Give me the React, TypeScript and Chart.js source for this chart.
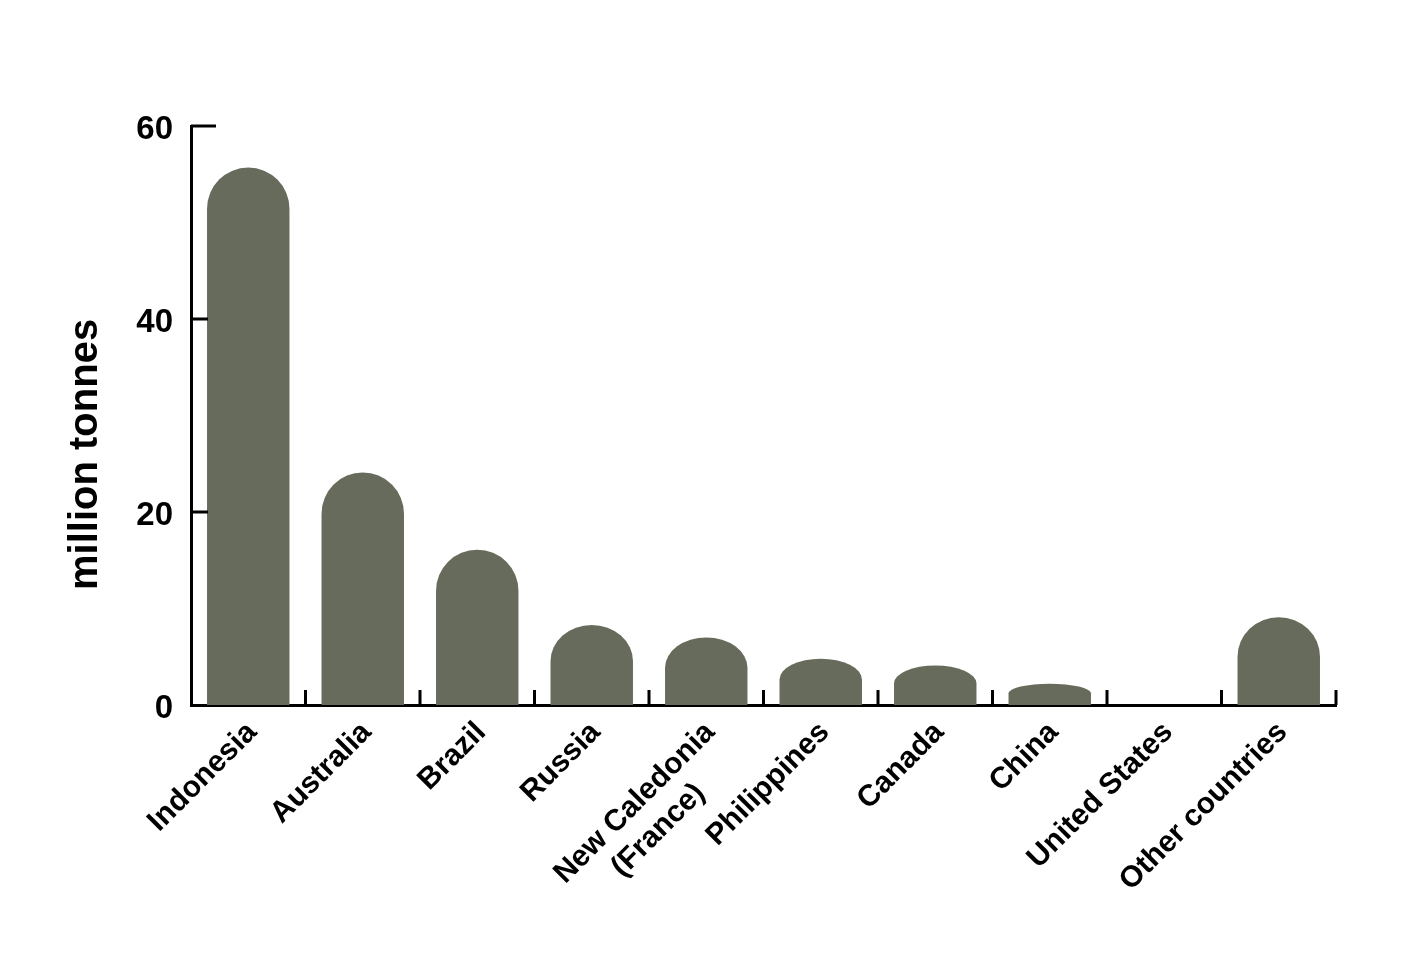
import { useEffect, useRef } from "react";
import { Chart, registerables } from "chart.js";
Chart.register(...registerables);

const countries = [
  "Indonesia", "Australia", "Brazil", "Russia", ["New Caledonia", "(France)      "],
  "Philippines", "Canada", "China", "United States", "Other countries",
];
const production = [55.7, 24.1, 16.1, 8.3, 7.0, 4.8, 4.1, 2.2, 0, 9.1];
const yTicks = [0, 20, 40, 60];

const BAR = "#676b5b";
const FONT = "'Liberation Sans', Arial, sans-serif";

// bars with an elliptical cap instead of the default rounded rectangle
const roundTops = {
  id: "roundTops",
  beforeDatasetDraw(chart: any, args: any) {
    const ctx = chart.ctx;
    ctx.save();
    ctx.fillStyle = BAR;
    args.meta.data.forEach((bar: any) => {
      const { x, y, base, width } = bar.getProps(["x", "y", "base", "width"], true);
      const h = base - y;
      if (h < 0.5) return;
      const rx = width / 2;
      const ry = Math.min(rx, h * 0.45);
      ctx.beginPath();
      ctx.moveTo(x - rx, base);
      ctx.lineTo(x - rx, y + ry);
      ctx.ellipse(x, y + ry, rx, ry, 0, Math.PI, 2 * Math.PI);
      ctx.lineTo(x + rx, base);
      ctx.closePath();
      ctx.fill();
    });
    ctx.restore();
    return false;
  },
};

// tick marks pointing into the plot
const innerTicks = {
  id: "innerTicks",
  afterDraw(chart: any) {
    const { ctx, chartArea, scales } = chart;
    ctx.save();
    ctx.strokeStyle = "#000";
    ctx.lineWidth = 3;
    ctx.beginPath();
    for (let i = 1; i <= countries.length; i++) {
      const px = scales.x.getPixelForValue(i - 0.5);
      ctx.moveTo(px, chartArea.bottom);
      ctx.lineTo(px, chartArea.bottom - 15);
    }
    yTicks.slice(1).forEach((v) => {
      const py = scales.y.getPixelForValue(v);
      const len = v === 60 ? 25 : 17;
      ctx.moveTo(chartArea.left, py);
      ctx.lineTo(chartArea.left + len, py);
    });
    ctx.stroke();
    ctx.restore();
  },
};

export default function App() {
  const canvasRef = useRef<HTMLCanvasElement | null>(null);

  useEffect(() => {
    if (!canvasRef.current) return;
    const chart = new Chart(canvasRef.current, {
      type: "bar",
      data: {
        labels: countries,
        datasets: [{ data: production, backgroundColor: BAR, categoryPercentage: 1, barPercentage: 0.72 }],
      },
      options: {
        responsive: false,
        animation: false,
        layout: { padding: { top: 126, right: 74, left: 0, bottom: 0 } },
        plugins: { legend: { display: false }, tooltip: { enabled: false } },
        scales: {
          x: {
            grid: { display: false, drawTicks: false },
            border: { display: true, color: "#000", width: 3 },
            ticks: {
              color: "#000",
              font: { family: FONT, weight: "bold", size: 30 },
              maxRotation: 45,
              minRotation: 45,
              autoSkip: false,
              padding: 10,
              labelOffset: 4,
            },
            afterFit: (s: any) => { s.height = 251; },
          },
          y: {
            min: 0,
            max: 60,
            afterBuildTicks: (s: any) => { s.ticks = yTicks.map((v) => ({ value: v })); },
            grid: { display: false, drawTicks: false },
            border: { display: true, color: "#000", width: 3 },
            ticks: {
              color: "#000",
              font: { family: FONT, weight: "bold", size: 33 },
              padding: 18,
              labelOffset: 4,
            },
            title: {
              display: true,
              text: "million tonnes       ",
              color: "#000",
              font: { family: FONT, weight: "bold", size: 40 },
              padding: { top: 62, bottom: 0 },
            },
            afterFit: (s: any) => { s.width = 191; },
          },
        },
      },
      plugins: [roundTops, innerTicks],
    });
    return () => chart.destroy();
  }, []);

  return (
    <div style={{ position: "absolute", left: 0, top: 0, width: 1410, height: 956, background: "#fff" }}>
      <canvas ref={canvasRef} width={1410} height={956} style={{ width: 1410, height: 956 }} />
    </div>
  );
}
